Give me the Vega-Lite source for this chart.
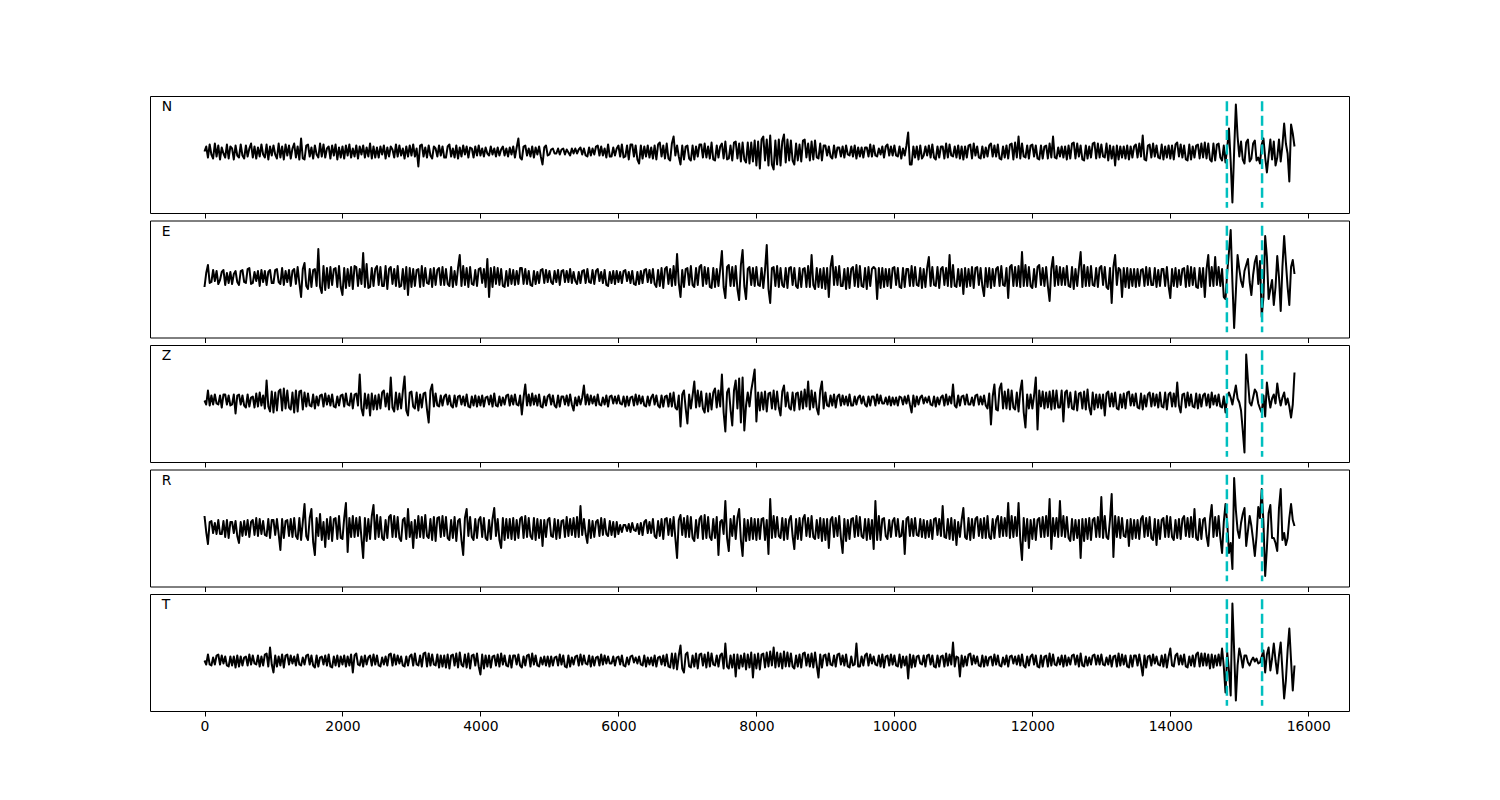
{
"$schema": "https://vega.github.io/schema/vega-lite/v6.json",
"padding": {"left": 149, "top": 95, "right": 0, "bottom": 0},
"autosize": {"type": "pad"},
"background": "white",
"spacing": 7.5,
"bounds": "flush",
"config": {
 "view": {"stroke": "black", "strokeWidth": 1},
 "font": "DejaVu Sans",
 "axis": {"domain": false, "grid": false, "ticks": true, "tickSize": 5, "tickColor": "black", "tickWidth": 1, "labelFont": "DejaVu Sans", "labelFontSize": 13.9, "labelColor": "black", "labelPadding": 3, "labelFlush": false, "labelOverlap": false}
},
"datasets": {
 "p": [{"t": 14820}, {"t": 15330}],
 "w": [
{"t":0,"N":0,"E":-10,"Z":0,"R":12,"T":0},
{"t":25,"N":5,"E":4,"Z":-4,"R":-4,"T":-4},
{"t":50,"N":-6,"E":12,"Z":10,"R":-16,"T":6},
{"t":75,"N":7,"E":-6,"Z":-5,"R":6,"T":-4},
{"t":100,"N":-3,"E":-5,"Z":5,"R":7,"T":-5},
{"t":125,"N":-7,"E":7,"Z":-4,"R":-5,"T":3},
{"t":150,"N":8,"E":-4,"Z":6,"R":5,"T":-4},
{"t":175,"N":-5,"E":6,"Z":-3,"R":-6,"T":5},
{"t":200,"N":6,"E":-7,"Z":-4,"R":8,"T":6},
{"t":225,"N":-8,"E":-3,"Z":5,"R":-6,"T":-4},
{"t":250,"N":4,"E":5,"Z":-7,"R":-6,"T":5},
{"t":275,"N":-2,"E":7,"Z":6,"R":7,"T":-3},
{"t":300,"N":-6,"E":-8,"Z":6,"R":-9,"T":4},
{"t":325,"N":7,"E":4,"Z":-4,"R":8,"T":-5},
{"t":350,"N":-7,"E":-6,"Z":5,"R":-10,"T":-6},
{"t":375,"N":5,"E":5,"Z":-5,"R":6,"T":4},
{"t":400,"N":3,"E":-7,"Z":-4,"R":6,"T":-5},
{"t":425,"N":-8,"E":3,"Z":6,"R":-5,"T":4},
{"t":450,"N":6,"E":6,"Z":-13,"R":7,"T":-7},
{"t":475,"N":-4,"E":-5,"Z":5,"R":-8,"T":5},
{"t":500,"N":-6,"E":-8,"Z":6,"R":-15,"T":-6},
{"t":525,"N":7,"E":6,"Z":-4,"R":6,"T":4},
{"t":550,"N":-4,"E":7,"Z":5,"R":-8,"T":-5},
{"t":575,"N":-7,"E":-5,"Z":-5,"R":7,"T":3},
{"t":600,"N":6,"E":-6,"Z":-7,"R":-7,"T":4},
{"t":625,"N":-5,"E":8,"Z":6,"R":8,"T":-5},
{"t":650,"N":3,"E":9,"Z":-6,"R":-9,"T":6},
{"t":675,"N":8,"E":-7,"Z":3,"R":6,"T":-4},
{"t":700,"N":-6,"E":-6,"Z":4,"R":8,"T":5},
{"t":725,"N":5,"E":5,"Z":-7,"R":-7,"T":-3},
{"t":750,"N":-7,"E":-4,"Z":7,"R":10,"T":-4},
{"t":775,"N":4,"E":6,"Z":-6,"R":-8,"T":5},
{"t":800,"N":-5,"E":-9,"Z":8,"R":9,"T":-6},
{"t":825,"N":7,"E":7,"Z":-5,"R":-6,"T":4},
{"t":850,"N":-3,"E":-5,"Z":5,"R":7,"T":-5},
{"t":875,"N":-6,"E":6,"Z":-8,"R":-7,"T":6},
{"t":900,"N":7,"E":-8,"Z":20,"R":-8,"T":7},
{"t":925,"N":-8,"E":5,"Z":-6,"R":9,"T":-6},
{"t":950,"N":5,"E":7,"Z":-11,"R":-10,"T":13},
{"t":975,"N":-4,"E":-6,"Z":9,"R":8,"T":-4},
{"t":1000,"N":6,"E":-6,"Z":-12,"R":8,"T":-12},
{"t":1025,"N":-3,"E":7,"Z":8,"R":-7,"T":5},
{"t":1050,"N":-7,"E":8,"Z":-10,"R":9,"T":-6},
{"t":1075,"N":8,"E":-5,"Z":9,"R":-6,"T":4},
{"t":1100,"N":-6,"E":-7,"Z":11,"R":-22,"T":-5},
{"t":1125,"N":5,"E":9,"Z":-10,"R":9,"T":6},
{"t":1150,"N":-8,"E":-8,"Z":12,"R":-10,"T":-7},
{"t":1175,"N":7,"E":6,"Z":-8,"R":7,"T":5},
{"t":1200,"N":-4,"E":-5,"Z":10,"R":8,"T":6},
{"t":1225,"N":6,"E":7,"Z":-7,"R":-8,"T":-4},
{"t":1250,"N":-7,"E":-9,"Z":-9,"R":9,"T":5},
{"t":1275,"N":3,"E":6,"Z":8,"R":-9,"T":-3},
{"t":1300,"N":8,"E":8,"Z":-12,"R":10,"T":4},
{"t":1325,"N":-6,"E":-7,"Z":10,"R":-8,"T":-5},
{"t":1350,"N":5,"E":10,"Z":-11,"R":-11,"T":6},
{"t":1375,"N":-8,"E":-6,"Z":9,"R":10,"T":-4},
{"t":1400,"N":13,"E":-20,"Z":10,"R":-12,"T":-5},
{"t":1425,"N":-7,"E":8,"Z":-9,"R":6,"T":3},
{"t":1450,"N":-8,"E":14,"Z":8,"R":24,"T":-4},
{"t":1475,"N":6,"E":-9,"Z":-6,"R":-8,"T":5},
{"t":1500,"N":7,"E":-12,"Z":7,"R":-12,"T":6},
{"t":1525,"N":-5,"E":8,"Z":-5,"R":10,"T":-4},
{"t":1550,"N":4,"E":-10,"Z":-6,"R":19,"T":5},
{"t":1575,"N":-7,"E":7,"Z":6,"R":-14,"T":-5},
{"t":1600,"N":6,"E":8,"Z":-8,"R":-27,"T":-7},
{"t":1625,"N":-3,"E":-9,"Z":4,"R":10,"T":5},
{"t":1650,"N":-6,"E":28,"Z":-5,"R":-8,"T":-6},
{"t":1675,"N":8,"E":-10,"Z":5,"R":14,"T":3},
{"t":1700,"N":-5,"E":-16,"Z":6,"R":-12,"T":4},
{"t":1725,"N":7,"E":11,"Z":-6,"R":6,"T":-4},
{"t":1750,"N":-6,"E":-13,"Z":7,"R":-19,"T":5},
{"t":1775,"N":3,"E":9,"Z":-4,"R":9,"T":-5},
{"t":1800,"N":5,"E":-11,"Z":5,"R":-11,"T":6},
{"t":1825,"N":-7,"E":10,"Z":-5,"R":11,"T":-6},
{"t":1850,"N":6,"E":-8,"Z":6,"R":-13,"T":-7},
{"t":1875,"N":-4,"E":8,"Z":-6,"R":9,"T":4},
{"t":1900,"N":7,"E":9,"Z":-7,"R":10,"T":-5},
{"t":1925,"N":-8,"E":-10,"Z":4,"R":-11,"T":5},
{"t":1950,"N":4,"E":11,"Z":-5,"R":12,"T":-6},
{"t":1975,"N":-6,"E":-10,"Z":5,"R":-10,"T":4},
{"t":2000,"N":5,"E":-18,"Z":6,"R":-11,"T":-4},
{"t":2025,"N":-7,"E":9,"Z":-6,"R":10,"T":5},
{"t":2050,"N":6,"E":-11,"Z":7,"R":25,"T":-6},
{"t":2075,"N":-4,"E":8,"Z":-4,"R":-24,"T":4},
{"t":2100,"N":7,"E":-9,"Z":-5,"R":10,"T":-5},
{"t":2125,"N":-6,"E":10,"Z":7,"R":-9,"T":6},
{"t":2150,"N":3,"E":-12,"Z":-8,"R":12,"T":-12},
{"t":2175,"N":-5,"E":11,"Z":6,"R":-9,"T":5},
{"t":2200,"N":6,"E":10,"Z":7,"R":10,"T":7},
{"t":2225,"N":-7,"E":-9,"Z":-5,"R":-8,"T":-4},
{"t":2250,"N":5,"E":8,"Z":26,"R":11,"T":-5},
{"t":2275,"N":-3,"E":-7,"Z":-8,"R":-10,"T":4},
{"t":2300,"N":6,"E":24,"Z":-15,"R":-30,"T":-6},
{"t":2325,"N":-6,"E":-10,"Z":7,"R":10,"T":5},
{"t":2350,"N":4,"E":13,"Z":-8,"R":-13,"T":-4},
{"t":2375,"N":-5,"E":-11,"Z":6,"R":9,"T":3},
{"t":2400,"N":8,"E":-10,"Z":-15,"R":-11,"T":5},
{"t":2425,"N":-7,"E":9,"Z":7,"R":12,"T":-5},
{"t":2450,"N":5,"E":-9,"Z":-9,"R":23,"T":6},
{"t":2475,"N":-6,"E":8,"Z":5,"R":-11,"T":-4},
{"t":2500,"N":4,"E":11,"Z":-9,"R":13,"T":5},
{"t":2525,"N":-6,"E":-8,"Z":6,"R":-9,"T":-5},
{"t":2550,"N":5,"E":10,"Z":-8,"R":11,"T":-6},
{"t":2575,"N":-3,"E":-9,"Z":8,"R":-10,"T":3},
{"t":2600,"N":6,"E":-9,"Z":10,"R":-12,"T":-4},
{"t":2625,"N":-7,"E":11,"Z":-6,"R":8,"T":4},
{"t":2650,"N":4,"E":-12,"Z":7,"R":-10,"T":-5},
{"t":2675,"N":-5,"E":8,"Z":-9,"R":11,"T":6},
{"t":2700,"N":5,"E":10,"Z":23,"R":13,"T":7},
{"t":2725,"N":2,"E":-7,"Z":-7,"R":-9,"T":-5},
{"t":2750,"N":-6,"E":8,"Z":-11,"R":12,"T":6},
{"t":2775,"N":7,"E":-9,"Z":8,"R":-9,"T":-4},
{"t":2800,"N":-5,"E":11,"Z":-9,"R":11,"T":5},
{"t":2825,"N":6,"E":-10,"Z":7,"R":-10,"T":-3},
{"t":2850,"N":-4,"E":-9,"Z":-8,"R":-13,"T":4},
{"t":2875,"N":3,"E":8,"Z":9,"R":8,"T":-5},
{"t":2900,"N":-7,"E":-12,"Z":24,"R":10,"T":-6},
{"t":2925,"N":5,"E":10,"Z":-10,"R":-11,"T":4},
{"t":2950,"N":-5,"E":-18,"Z":-15,"R":19,"T":-5},
{"t":2975,"N":6,"E":9,"Z":8,"R":-9,"T":4},
{"t":3000,"N":-4,"E":-10,"Z":9,"R":6,"T":6},
{"t":3025,"N":7,"E":8,"Z":-6,"R":-20,"T":-5},
{"t":3050,"N":-5,"E":-9,"Z":-8,"R":8,"T":7},
{"t":3075,"N":3,"E":7,"Z":8,"R":-10,"T":-4},
{"t":3100,"N":-15,"E":8,"Z":-10,"R":12,"T":-5},
{"t":3125,"N":6,"E":-10,"Z":6,"R":-9,"T":5},
{"t":3150,"N":7,"E":11,"Z":-7,"R":11,"T":-6},
{"t":3175,"N":-5,"E":-9,"Z":7,"R":-10,"T":7},
{"t":3200,"N":4,"E":9,"Z":8,"R":13,"T":8},
{"t":3225,"N":-6,"E":-6,"Z":-9,"R":-8,"T":-6},
{"t":3250,"N":6,"E":-7,"Z":-22,"R":-10,"T":7},
{"t":3275,"N":-4,"E":8,"Z":10,"R":9,"T":-5},
{"t":3300,"N":-7,"E":-10,"Z":16,"R":-12,"T":6},
{"t":3325,"N":5,"E":9,"Z":-6,"R":11,"T":-4},
{"t":3350,"N":3,"E":-8,"Z":7,"R":-13,"T":-5},
{"t":3375,"N":-5,"E":7,"Z":-5,"R":10,"T":6},
{"t":3400,"N":6,"E":9,"Z":-6,"R":11,"T":-7},
{"t":3425,"N":-4,"E":-8,"Z":5,"R":-9,"T":5},
{"t":3450,"N":5,"E":10,"Z":-5,"R":12,"T":-6},
{"t":3475,"N":-6,"E":-8,"Z":4,"R":-8,"T":5},
{"t":3500,"N":-6,"E":8,"Z":6,"R":11,"T":-7},
{"t":3525,"N":5,"E":-7,"Z":-4,"R":-10,"T":6},
{"t":3550,"N":7,"E":-9,"Z":5,"R":-12,"T":-8},
{"t":3575,"N":-5,"E":10,"Z":-5,"R":8,"T":5},
{"t":3600,"N":3,"E":-10,"Z":-7,"R":-10,"T":6},
{"t":3625,"N":-6,"E":6,"Z":5,"R":11,"T":-5},
{"t":3650,"N":6,"E":-8,"Z":-6,"R":-13,"T":7},
{"t":3675,"N":-7,"E":9,"Z":4,"R":7,"T":-7},
{"t":3700,"N":4,"E":22,"Z":5,"R":9,"T":8},
{"t":3725,"N":-5,"E":-9,"Z":-4,"R":-12,"T":-4},
{"t":3750,"N":6,"E":11,"Z":4,"R":-27,"T":-6},
{"t":3775,"N":-3,"E":-8,"Z":-5,"R":10,"T":6},
{"t":3800,"N":5,"E":9,"Z":6,"R":19,"T":-7},
{"t":3825,"N":-6,"E":-10,"Z":-6,"R":-8,"T":7},
{"t":3850,"N":4,"E":10,"Z":-7,"R":11,"T":-8},
{"t":3875,"N":3,"E":-7,"Z":4,"R":-9,"T":5},
{"t":3900,"N":-6,"E":-8,"Z":-5,"R":-12,"T":6},
{"t":3925,"N":5,"E":7,"Z":5,"R":9,"T":-5},
{"t":3950,"N":-4,"E":-9,"Z":-6,"R":-10,"T":7},
{"t":3975,"N":6,"E":8,"Z":4,"R":8,"T":-6},
{"t":4000,"N":-4,"E":9,"Z":-5,"R":11,"T":-14},
{"t":4025,"N":3,"E":-6,"Z":5,"R":-9,"T":6},
{"t":4050,"N":-5,"E":8,"Z":-6,"R":10,"T":-8},
{"t":4075,"N":4,"E":-10,"Z":3,"R":-10,"T":5},
{"t":4100,"N":-2,"E":18,"Z":4,"R":-12,"T":-6},
{"t":4125,"N":-4,"E":-20,"Z":-4,"R":8,"T":5},
{"t":4150,"N":5,"E":9,"Z":5,"R":-11,"T":-7},
{"t":4175,"N":-3,"E":-10,"Z":-6,"R":9,"T":4},
{"t":4200,"N":3,"E":10,"Z":7,"R":20,"T":5},
{"t":4225,"N":-5,"E":-7,"Z":-5,"R":-8,"T":-5},
{"t":4250,"N":4,"E":9,"Z":-6,"R":9,"T":6},
{"t":4275,"N":-4,"E":-8,"Z":4,"R":-12,"T":-6},
{"t":4300,"N":2,"E":8,"Z":-5,"R":-20,"T":7},
{"t":4325,"N":5,"E":-9,"Z":3,"R":10,"T":-4},
{"t":4350,"N":-4,"E":-10,"Z":-4,"R":-12,"T":5},
{"t":4375,"N":3,"E":6,"Z":5,"R":9,"T":-5},
{"t":4400,"N":-5,"E":-9,"Z":6,"R":-10,"T":-6},
{"t":4425,"N":4,"E":8,"Z":-5,"R":9,"T":5},
{"t":4450,"N":-3,"E":-7,"Z":5,"R":-11,"T":-7},
{"t":4475,"N":5,"E":7,"Z":-4,"R":10,"T":5},
{"t":4500,"N":-6,"E":-8,"Z":6,"R":-12,"T":5},
{"t":4525,"N":4,"E":6,"Z":-4,"R":8,"T":-4},
{"t":4550,"N":13,"E":-7,"Z":-5,"R":-10,"T":6},
{"t":4575,"N":-6,"E":9,"Z":5,"R":9,"T":-5},
{"t":4600,"N":-8,"E":9,"Z":-14,"R":11,"T":-7},
{"t":4625,"N":5,"E":-7,"Z":3,"R":-10,"T":4},
{"t":4650,"N":6,"E":8,"Z":16,"R":12,"T":-5},
{"t":4675,"N":-4,"E":-7,"Z":-5,"R":-9,"T":5},
{"t":4700,"N":3,"E":6,"Z":6,"R":10,"T":6},
{"t":4725,"N":-5,"E":-8,"Z":-5,"R":-8,"T":-6},
{"t":4750,"N":5,"E":-9,"Z":7,"R":-11,"T":7},
{"t":4775,"N":-6,"E":6,"Z":-4,"R":10,"T":-4},
{"t":4800,"N":4,"E":-7,"Z":5,"R":-12,"T":5},
{"t":4825,"N":-3,"E":5,"Z":-5,"R":9,"T":-5},
{"t":4850,"N":5,"E":-6,"Z":6,"R":-10,"T":-6},
{"t":4875,"N":-5,"E":7,"Z":-6,"R":8,"T":3},
{"t":4900,"N":-13,"E":8,"Z":-7,"R":-18,"T":-4},
{"t":4925,"N":4,"E":-6,"Z":4,"R":8,"T":4},
{"t":4950,"N":6,"E":7,"Z":-5,"R":-9,"T":-5},
{"t":4975,"N":-4,"E":-5,"Z":4,"R":8,"T":4},
{"t":5000,"N":-3,"E":6,"Z":6,"R":10,"T":-6},
{"t":5025,"N":2,"E":-5,"Z":-4,"R":-8,"T":4},
{"t":5050,"N":3,"E":-7,"Z":5,"R":-9,"T":-5},
{"t":5075,"N":-2,"E":6,"Z":-5,"R":9,"T":3},
{"t":5100,"N":-2,"E":-5,"Z":-7,"R":-11,"T":4},
{"t":5125,"N":3,"E":7,"Z":5,"R":8,"T":-5},
{"t":5150,"N":-3,"E":-8,"Z":-6,"R":-10,"T":6},
{"t":5175,"N":2,"E":6,"Z":4,"R":7,"T":-4},
{"t":5200,"N":3,"E":7,"Z":4,"R":8,"T":5},
{"t":5225,"N":-3,"E":-5,"Z":-4,"R":-9,"T":-6},
{"t":5250,"N":2,"E":6,"Z":5,"R":11,"T":-7},
{"t":5275,"N":-1,"E":-5,"Z":-5,"R":-8,"T":5},
{"t":5300,"N":-4,"E":8,"Z":6,"R":9,"T":-6},
{"t":5325,"N":3,"E":-6,"Z":-4,"R":-7,"T":3},
{"t":5350,"N":-2,"E":5,"Z":-10,"R":10,"T":-4},
{"t":5375,"N":3,"E":-4,"Z":3,"R":-9,"T":4},
{"t":5400,"N":-2,"E":-7,"Z":-5,"R":11,"T":5},
{"t":5425,"N":2,"E":5,"Z":4,"R":-9,"T":-5},
{"t":5450,"N":4,"E":-6,"Z":-4,"R":22,"T":6},
{"t":5475,"N":-3,"E":6,"Z":3,"R":-7,"T":-4},
{"t":5500,"N":3,"E":7,"Z":15,"R":9,"T":5},
{"t":5525,"N":-4,"E":-6,"Z":-4,"R":-6,"T":-3},
{"t":5550,"N":-5,"E":8,"Z":6,"R":-15,"T":-4},
{"t":5575,"N":4,"E":-5,"Z":-4,"R":8,"T":5},
{"t":5600,"N":-4,"E":-6,"Z":5,"R":-10,"T":-6},
{"t":5625,"N":3,"E":7,"Z":-3,"R":7,"T":4},
{"t":5650,"N":-3,"E":-7,"Z":4,"R":-9,"T":-5},
{"t":5675,"N":5,"E":6,"Z":-5,"R":6,"T":3},
{"t":5700,"N":6,"E":8,"Z":6,"R":8,"T":4},
{"t":5725,"N":-4,"E":-4,"Z":-4,"R":-8,"T":-5},
{"t":5750,"N":5,"E":5,"Z":-5,"R":10,"T":6},
{"t":5775,"N":-4,"E":-6,"Z":3,"R":-7,"T":-4},
{"t":5800,"N":3,"E":7,"Z":-4,"R":9,"T":5},
{"t":5825,"N":-6,"E":-8,"Z":5,"R":-6,"T":-3},
{"t":5850,"N":7,"E":-9,"Z":-6,"R":-8,"T":4},
{"t":5875,"N":-5,"E":5,"Z":4,"R":7,"T":-3},
{"t":5900,"N":-5,"E":-6,"Z":5,"R":-7,"T":-3},
{"t":5925,"N":4,"E":6,"Z":-3,"R":6,"T":4},
{"t":5950,"N":-4,"E":-7,"Z":4,"R":-9,"T":-5},
{"t":5975,"N":3,"E":6,"Z":-3,"R":6,"T":3},
{"t":6000,"N":6,"E":-5,"Z":5,"R":-6,"T":4},
{"t":6025,"N":-5,"E":5,"Z":-3,"R":3,"T":-4},
{"t":6050,"N":7,"E":-6,"Z":-4,"R":-4,"T":5},
{"t":6075,"N":-6,"E":6,"Z":4,"R":3,"T":-5},
{"t":6100,"N":-5,"E":7,"Z":-6,"R":3,"T":-6},
{"t":6125,"N":6,"E":-4,"Z":4,"R":-3,"T":3},
{"t":6150,"N":-8,"E":5,"Z":-5,"R":4,"T":-4},
{"t":6175,"N":7,"E":-6,"Z":3,"R":-4,"T":4},
{"t":6200,"N":7,"E":6,"Z":4,"R":5,"T":5},
{"t":6225,"N":-5,"E":-7,"Z":-5,"R":-2,"T":-2},
{"t":6250,"N":6,"E":-8,"Z":6,"R":-3,"T":3},
{"t":6275,"N":-8,"E":5,"Z":-4,"R":4,"T":-3},
{"t":6300,"N":-12,"E":-7,"Z":5,"R":-6,"T":4},
{"t":6325,"N":6,"E":6,"Z":-3,"R":5,"T":-4},
{"t":6350,"N":-7,"E":-6,"Z":4,"R":-7,"T":-5},
{"t":6375,"N":5,"E":7,"Z":-5,"R":6,"T":5},
{"t":6400,"N":-5,"E":8,"Z":-6,"R":8,"T":-6},
{"t":6425,"N":6,"E":-5,"Z":4,"R":-5,"T":3},
{"t":6450,"N":-6,"E":7,"Z":-5,"R":6,"T":-4},
{"t":6475,"N":4,"E":-6,"Z":3,"R":-5,"T":3},
{"t":6500,"N":-7,"E":8,"Z":6,"R":9,"T":-5},
{"t":6525,"N":6,"E":-7,"Z":-4,"R":-8,"T":5},
{"t":6550,"N":-8,"E":-10,"Z":5,"R":-10,"T":-6},
{"t":6575,"N":7,"E":7,"Z":-5,"R":7,"T":3},
{"t":6600,"N":9,"E":-9,"Z":-7,"R":-8,"T":4},
{"t":6625,"N":-5,"E":9,"Z":5,"R":9,"T":-4},
{"t":6650,"N":6,"E":-11,"Z":-6,"R":-11,"T":5},
{"t":6675,"N":-7,"E":8,"Z":4,"R":9,"T":-5},
{"t":6700,"N":8,"E":10,"Z":5,"R":10,"T":6},
{"t":6725,"N":-7,"E":-7,"Z":-6,"R":-7,"T":-6},
{"t":6750,"N":-9,"E":8,"Z":7,"R":9,"T":-7},
{"t":6775,"N":8,"E":-9,"Z":-6,"R":-8,"T":7},
{"t":6800,"N":15,"E":11,"Z":8,"R":11,"T":-8},
{"t":6825,"N":-4,"E":-8,"Z":-7,"R":-10,"T":7},
{"t":6850,"N":6,"E":23,"Z":-9,"R":-30,"T":-9},
{"t":6875,"N":-5,"E":-6,"Z":5,"R":8,"T":5},
{"t":6900,"N":-13,"E":-20,"Z":-26,"R":13,"T":15},
{"t":6925,"N":6,"E":7,"Z":6,"R":-7,"T":-8},
{"t":6950,"N":-8,"E":-10,"Z":10,"R":10,"T":-12},
{"t":6975,"N":5,"E":8,"Z":-8,"R":-9,"T":6},
{"t":7000,"N":6,"E":9,"Z":-23,"R":12,"T":8},
{"t":7025,"N":-7,"E":-8,"Z":6,"R":-9,"T":-6},
{"t":7050,"N":-9,"E":11,"Z":-8,"R":11,"T":-7},
{"t":7075,"N":6,"E":-8,"Z":5,"R":-10,"T":5},
{"t":7100,"N":-8,"E":-10,"Z":19,"R":-13,"T":-6},
{"t":7125,"N":5,"E":9,"Z":-7,"R":8,"T":7},
{"t":7150,"N":-5,"E":-8,"Z":10,"R":-10,"T":-8},
{"t":7175,"N":7,"E":10,"Z":-6,"R":9,"T":6},
{"t":7200,"N":7,"E":12,"Z":9,"R":12,"T":7},
{"t":7225,"N":-6,"E":-9,"Z":-8,"R":-11,"T":-5},
{"t":7250,"N":8,"E":10,"Z":-12,"R":13,"T":6},
{"t":7275,"N":-6,"E":-7,"Z":7,"R":-10,"T":-7},
{"t":7300,"N":5,"E":9,"Z":-11,"R":11,"T":8},
{"t":7325,"N":-7,"E":-10,"Z":7,"R":-9,"T":-6},
{"t":7350,"N":9,"E":-11,"Z":-9,"R":-12,"T":7},
{"t":7375,"N":-8,"E":9,"Z":8,"R":9,"T":-4},
{"t":7400,"N":-9,"E":-10,"Z":12,"R":-10,"T":-5},
{"t":7425,"N":6,"E":8,"Z":-7,"R":11,"T":5},
{"t":7450,"N":-6,"E":-9,"Z":10,"R":-27,"T":-6},
{"t":7475,"N":5,"E":8,"Z":-6,"R":6,"T":5},
{"t":7500,"N":8,"E":26,"Z":26,"R":8,"T":7},
{"t":7525,"N":-7,"E":-10,"Z":-12,"R":-6,"T":-8},
{"t":7550,"N":10,"E":-21,"Z":-31,"R":27,"T":17},
{"t":7575,"N":-8,"E":10,"Z":8,"R":-10,"T":-6},
{"t":7600,"N":-7,"E":12,"Z":12,"R":-23,"T":-8},
{"t":7625,"N":6,"E":-9,"Z":-9,"R":9,"T":5},
{"t":7650,"N":-9,"E":10,"Z":-25,"R":-8,"T":-7},
{"t":7675,"N":9,"E":-9,"Z":10,"R":12,"T":6},
{"t":7700,"N":10,"E":11,"Z":20,"R":-11,"T":-16},
{"t":7725,"N":-7,"E":-12,"Z":-8,"R":10,"T":6},
{"t":7750,"N":8,"E":-23,"Z":22,"R":19,"T":-8},
{"t":7775,"N":-10,"E":12,"Z":-22,"R":-12,"T":5},
{"t":7800,"N":9,"E":27,"Z":23,"R":-28,"T":-6},
{"t":7825,"N":-8,"E":-9,"Z":-30,"R":9,"T":7},
{"t":7850,"N":-11,"E":-22,"Z":-5,"R":-13,"T":-9},
{"t":7875,"N":9,"E":8,"Z":8,"R":8,"T":6},
{"t":7900,"N":-12,"E":10,"Z":-6,"R":-12,"T":-7},
{"t":7925,"N":9,"E":-8,"Z":10,"R":10,"T":8},
{"t":7950,"N":-10,"E":9,"Z":20,"R":-11,"T":-17},
{"t":7975,"N":11,"E":-9,"Z":31,"R":9,"T":6},
{"t":8000,"N":-14,"E":10,"Z":-21,"R":-12,"T":-8},
{"t":8025,"N":10,"E":-8,"Z":8,"R":9,"T":7},
{"t":8050,"N":-17,"E":-9,"Z":-10,"R":-11,"T":-9},
{"t":8075,"N":12,"E":9,"Z":8,"R":9,"T":6},
{"t":8100,"N":15,"E":-11,"Z":-9,"R":10,"T":7},
{"t":8125,"N":-9,"E":7,"Z":9,"R":-12,"T":-7},
{"t":8150,"N":12,"E":32,"Z":-11,"R":8,"T":8},
{"t":8175,"N":-14,"E":-12,"Z":7,"R":-26,"T":-6},
{"t":8200,"N":16,"E":-26,"Z":8,"R":29,"T":9},
{"t":8225,"N":-13,"E":9,"Z":-8,"R":-10,"T":-5},
{"t":8250,"N":-18,"E":10,"Z":10,"R":12,"T":13},
{"t":8275,"N":11,"E":-9,"Z":-9,"R":-9,"T":-7},
{"t":8300,"N":-13,"E":11,"Z":9,"R":11,"T":8},
{"t":8325,"N":12,"E":-10,"Z":-7,"R":-8,"T":-6},
{"t":8350,"N":-14,"E":9,"Z":-15,"R":-10,"T":7},
{"t":8375,"N":10,"E":-8,"Z":9,"R":10,"T":-8},
{"t":8400,"N":17,"E":-10,"Z":15,"R":-12,"T":9},
{"t":8425,"N":-11,"E":9,"Z":-6,"R":9,"T":-6},
{"t":8450,"N":12,"E":-11,"Z":8,"R":-11,"T":8},
{"t":8475,"N":-9,"E":9,"Z":-7,"R":8,"T":-6},
{"t":8500,"N":11,"E":10,"Z":-9,"R":12,"T":7},
{"t":8525,"N":-9,"E":-8,"Z":8,"R":-8,"T":-6},
{"t":8550,"N":-13,"E":9,"Z":-10,"R":-21,"T":-8},
{"t":8575,"N":8,"E":-9,"Z":7,"R":9,"T":5},
{"t":8600,"N":-9,"E":-11,"Z":8,"R":-11,"T":-6},
{"t":8625,"N":7,"E":9,"Z":-9,"R":10,"T":6},
{"t":8650,"N":-10,"E":-10,"Z":9,"R":-12,"T":-7},
{"t":8675,"N":11,"E":8,"Z":-8,"R":9,"T":7},
{"t":8700,"N":12,"E":9,"Z":11,"R":13,"T":8},
{"t":8725,"N":-6,"E":-10,"Z":-6,"R":-8,"T":-5},
{"t":8750,"N":8,"E":11,"Z":19,"R":10,"T":6},
{"t":8775,"N":-9,"E":-10,"Z":-9,"R":-9,"T":-6},
{"t":8800,"N":10,"E":22,"Z":10,"R":12,"T":7},
{"t":8825,"N":-8,"E":-8,"Z":-7,"R":-9,"T":-7},
{"t":8850,"N":11,"E":-12,"Z":8,"R":-11,"T":8},
{"t":8875,"N":-6,"E":9,"Z":-8,"R":8,"T":-5},
{"t":8900,"N":-7,"E":-10,"Z":-14,"R":-10,"T":-17},
{"t":8925,"N":8,"E":8,"Z":10,"R":10,"T":6},
{"t":8950,"N":-9,"E":-11,"Z":19,"R":-13,"T":-7},
{"t":8975,"N":6,"E":9,"Z":-8,"R":9,"T":5},
{"t":9000,"N":6,"E":-12,"Z":8,"R":-12,"T":6},
{"t":9025,"N":-4,"E":9,"Z":-5,"R":9,"T":-5},
{"t":9050,"N":5,"E":-20,"Z":-6,"R":-20,"T":7},
{"t":9075,"N":-5,"E":10,"Z":5,"R":8,"T":-4},
{"t":9100,"N":-7,"E":21,"Z":-5,"R":11,"T":-5},
{"t":9125,"N":6,"E":-8,"Z":6,"R":-9,"T":5},
{"t":9150,"N":-6,"E":10,"Z":-7,"R":10,"T":-6},
{"t":9175,"N":4,"E":-8,"Z":4,"R":-8,"T":6},
{"t":9200,"N":4,"E":11,"Z":6,"R":12,"T":7},
{"t":9225,"N":-5,"E":-9,"Z":-5,"R":-10,"T":-4},
{"t":9250,"N":5,"E":-9,"Z":5,"R":-25,"T":5},
{"t":9275,"N":-6,"E":8,"Z":-4,"R":9,"T":-5},
{"t":9300,"N":6,"E":-12,"Z":4,"R":-13,"T":6},
{"t":9325,"N":-3,"E":9,"Z":-5,"R":8,"T":-6},
{"t":9350,"N":-4,"E":-11,"Z":6,"R":-11,"T":-7},
{"t":9375,"N":5,"E":8,"Z":-5,"R":9,"T":4},
{"t":9400,"N":-5,"E":10,"Z":-5,"R":10,"T":-5},
{"t":9425,"N":6,"E":-9,"Z":4,"R":-9,"T":-4},
{"t":9450,"N":-7,"E":12,"Z":-4,"R":12,"T":17},
{"t":9475,"N":4,"E":-10,"Z":3,"R":-8,"T":-6},
{"t":9500,"N":-5,"E":11,"Z":5,"R":11,"T":-6},
{"t":9525,"N":4,"E":-9,"Z":-3,"R":-8,"T":4},
{"t":9550,"N":-6,"E":-10,"Z":4,"R":-10,"T":-5},
{"t":9575,"N":4,"E":9,"Z":-4,"R":9,"T":5},
{"t":9600,"N":4,"E":-12,"Z":-6,"R":-12,"T":7},
{"t":9625,"N":-5,"E":10,"Z":4,"R":9,"T":-5},
{"t":9650,"N":7,"E":-9,"Z":-5,"R":-11,"T":6},
{"t":9675,"N":-5,"E":8,"Z":4,"R":8,"T":-3},
{"t":9700,"N":6,"E":10,"Z":4,"R":-21,"T":4},
{"t":9725,"N":-4,"E":8,"Z":-5,"R":27,"T":-4},
{"t":9750,"N":-5,"E":-22,"Z":6,"R":-12,"T":-5},
{"t":9775,"N":3,"E":9,"Z":-3,"R":12,"T":5},
{"t":9800,"N":-3,"E":-11,"Z":5,"R":-12,"T":-6},
{"t":9825,"N":5,"E":9,"Z":-3,"R":9,"T":6},
{"t":9850,"N":-6,"E":-10,"Z":-3,"R":10,"T":-7},
{"t":9875,"N":5,"E":8,"Z":3,"R":-8,"T":4},
{"t":9900,"N":7,"E":-9,"Z":-4,"R":-11,"T":5},
{"t":9925,"N":-4,"E":8,"Z":4,"R":8,"T":-5},
{"t":9950,"N":5,"E":-11,"Z":-5,"R":-9,"T":6},
{"t":9975,"N":-4,"E":9,"Z":3,"R":7,"T":-4},
{"t":10000,"N":6,"E":10,"Z":-4,"R":10,"T":5},
{"t":10025,"N":-4,"E":-8,"Z":3,"R":-8,"T":-5},
{"t":10050,"N":-5,"E":9,"Z":-5,"R":9,"T":-6},
{"t":10075,"N":5,"E":-10,"Z":4,"R":-9,"T":6},
{"t":10100,"N":-7,"E":-11,"Z":3,"R":-8,"T":-7},
{"t":10125,"N":3,"E":9,"Z":-4,"R":7,"T":4},
{"t":10150,"N":-4,"E":-10,"Z":4,"R":-26,"T":-5},
{"t":10175,"N":6,"E":8,"Z":-3,"R":9,"T":4},
{"t":10200,"N":19,"E":8,"Z":5,"R":11,"T":-18},
{"t":10225,"N":-13,"E":-9,"Z":-4,"R":-8,"T":6},
{"t":10250,"N":-13,"E":11,"Z":-12,"R":9,"T":-7},
{"t":10275,"N":5,"E":-9,"Z":5,"R":-8,"T":5},
{"t":10300,"N":-6,"E":10,"Z":-6,"R":10,"T":-6},
{"t":10325,"N":5,"E":-8,"Z":4,"R":-7,"T":4},
{"t":10350,"N":-8,"E":-9,"Z":-4,"R":-8,"T":5},
{"t":10375,"N":6,"E":9,"Z":3,"R":9,"T":-3},
{"t":10400,"N":-7,"E":-11,"Z":5,"R":-9,"T":-4},
{"t":10425,"N":-4,"E":8,"Z":-3,"R":8,"T":5},
{"t":10450,"N":5,"E":-10,"Z":3,"R":-10,"T":-6},
{"t":10475,"N":-4,"E":9,"Z":-2,"R":7,"T":5},
{"t":10500,"N":6,"E":20,"Z":4,"R":-9,"T":6},
{"t":10525,"N":-6,"E":-9,"Z":-4,"R":8,"T":-4},
{"t":10550,"N":7,"E":10,"Z":-5,"R":-11,"T":5},
{"t":10575,"N":-6,"E":-8,"Z":4,"R":9,"T":-6},
{"t":10600,"N":-8,"E":-9,"Z":-6,"R":10,"T":-7},
{"t":10625,"N":5,"E":10,"Z":3,"R":-7,"T":5},
{"t":10650,"N":-6,"E":-11,"Z":-4,"R":9,"T":-6},
{"t":10675,"N":5,"E":8,"Z":3,"R":-8,"T":4},
{"t":10700,"N":5,"E":10,"Z":5,"R":22,"T":5},
{"t":10725,"N":-7,"E":-8,"Z":-5,"R":-9,"T":-6},
{"t":10750,"N":8,"E":9,"Z":6,"R":-10,"T":7},
{"t":10775,"N":-6,"E":-9,"Z":-4,"R":9,"T":-5},
{"t":10800,"N":7,"E":22,"Z":4,"R":-11,"T":6},
{"t":10825,"N":-4,"E":-10,"Z":-3,"R":10,"T":-4},
{"t":10850,"N":-5,"E":12,"Z":16,"R":-12,"T":18},
{"t":10875,"N":5,"E":-9,"Z":-5,"R":8,"T":-6},
{"t":10900,"N":-6,"E":-10,"Z":-7,"R":-17,"T":4},
{"t":10925,"N":6,"E":8,"Z":5,"R":6,"T":3},
{"t":10950,"N":-7,"E":-9,"Z":-5,"R":-9,"T":-16},
{"t":10975,"N":5,"E":8,"Z":4,"R":8,"T":5},
{"t":11000,"N":-8,"E":-17,"Z":5,"R":20,"T":-6},
{"t":11025,"N":5,"E":9,"Z":-4,"R":-9,"T":4},
{"t":11050,"N":-6,"E":-10,"Z":6,"R":-11,"T":-5},
{"t":11075,"N":6,"E":8,"Z":-4,"R":10,"T":6},
{"t":11100,"N":7,"E":-9,"Z":-4,"R":-12,"T":7},
{"t":11125,"N":-7,"E":10,"Z":3,"R":9,"T":-4},
{"t":11150,"N":8,"E":-11,"Z":-5,"R":-10,"T":5},
{"t":11175,"N":-4,"E":9,"Z":5,"R":9,"T":-3},
{"t":11200,"N":5,"E":10,"Z":6,"R":11,"T":4},
{"t":11225,"N":-6,"E":-8,"Z":-4,"R":-8,"T":-5},
{"t":11250,"N":-7,"E":9,"Z":4,"R":9,"T":-6},
{"t":11275,"N":5,"E":-9,"Z":-4,"R":-10,"T":5},
{"t":11300,"N":-6,"E":-19,"Z":5,"R":10,"T":-6},
{"t":11325,"N":4,"E":9,"Z":-5,"R":-10,"T":4},
{"t":11350,"N":-5,"E":-10,"Z":-8,"R":12,"T":-5},
{"t":11375,"N":6,"E":9,"Z":7,"R":-9,"T":3},
{"t":11400,"N":8,"E":-11,"Z":-24,"R":-11,"T":4},
{"t":11425,"N":-5,"E":8,"Z":4,"R":9,"T":-5},
{"t":11450,"N":6,"E":-9,"Z":16,"R":-10,"T":6},
{"t":11475,"N":-5,"E":8,"Z":-9,"R":8,"T":-4},
{"t":11500,"N":7,"E":10,"Z":-10,"R":12,"T":5},
{"t":11525,"N":-7,"E":-9,"Z":12,"R":-9,"T":-5},
{"t":11550,"N":-8,"E":11,"Z":17,"R":11,"T":-6},
{"t":11575,"N":5,"E":-8,"Z":-8,"R":-8,"T":3},
{"t":11600,"N":-6,"E":-9,"Z":9,"R":10,"T":-4},
{"t":11625,"N":6,"E":9,"Z":-8,"R":-8,"T":5},
{"t":11650,"N":-7,"E":-21,"Z":11,"R":25,"T":-6},
{"t":11675,"N":7,"E":10,"Z":-9,"R":-10,"T":4},
{"t":11700,"N":8,"E":12,"Z":10,"R":12,"T":5},
{"t":11725,"N":-8,"E":-9,"Z":-7,"R":-9,"T":-3},
{"t":11750,"N":9,"E":10,"Z":-9,"R":11,"T":4},
{"t":11775,"N":-6,"E":-9,"Z":8,"R":-8,"T":-4},
{"t":11800,"N":15,"E":11,"Z":-11,"R":25,"T":5},
{"t":11825,"N":-7,"E":-10,"Z":10,"R":-12,"T":-5},
{"t":11850,"N":8,"E":25,"Z":20,"R":-32,"T":6},
{"t":11875,"N":-5,"E":-9,"Z":-12,"R":10,"T":-5},
{"t":11900,"N":-6,"E":12,"Z":-27,"R":-13,"T":-7},
{"t":11925,"N":6,"E":-9,"Z":6,"R":9,"T":4},
{"t":11950,"N":-7,"E":10,"Z":-8,"R":-20,"T":-5},
{"t":11975,"N":6,"E":-9,"Z":6,"R":8,"T":4},
{"t":12000,"N":7,"E":-11,"Z":-8,"R":-11,"T":6},
{"t":12025,"N":-5,"E":8,"Z":5,"R":9,"T":-4},
{"t":12050,"N":6,"E":-10,"Z":23,"R":-12,"T":5},
{"t":12075,"N":-7,"E":10,"Z":-29,"R":8,"T":-6},
{"t":12100,"N":-8,"E":12,"Z":10,"R":10,"T":-7},
{"t":12125,"N":6,"E":-8,"Z":-6,"R":-9,"T":5},
{"t":12150,"N":-7,"E":9,"Z":9,"R":11,"T":-6},
{"t":12175,"N":5,"E":-9,"Z":-8,"R":-9,"T":4},
{"t":12200,"N":6,"E":10,"Z":8,"R":12,"T":5},
{"t":12225,"N":-7,"E":-9,"Z":-7,"R":-8,"T":-6},
{"t":12250,"N":8,"E":-24,"Z":9,"R":29,"T":7},
{"t":12275,"N":-6,"E":8,"Z":-9,"R":-21,"T":-5},
{"t":12300,"N":15,"E":20,"Z":10,"R":10,"T":6},
{"t":12325,"N":-6,"E":-9,"Z":-8,"R":-8,"T":-4},
{"t":12350,"N":-7,"E":11,"Z":10,"R":10,"T":-5},
{"t":12375,"N":4,"E":-8,"Z":-7,"R":-9,"T":3},
{"t":12400,"N":-5,"E":10,"Z":-7,"R":27,"T":-4},
{"t":12425,"N":5,"E":-8,"Z":10,"R":-8,"T":5},
{"t":12450,"N":-6,"E":9,"Z":-21,"R":12,"T":-6},
{"t":12475,"N":5,"E":-8,"Z":8,"R":-9,"T":5},
{"t":12500,"N":-8,"E":11,"Z":10,"R":11,"T":-5},
{"t":12525,"N":6,"E":-9,"Z":-7,"R":-10,"T":3},
{"t":12550,"N":-7,"E":-10,"Z":8,"R":-13,"T":-4},
{"t":12575,"N":8,"E":10,"Z":-8,"R":9,"T":5},
{"t":12600,"N":9,"E":-12,"Z":-9,"R":-12,"T":6},
{"t":12625,"N":-7,"E":8,"Z":9,"R":8,"T":-4},
{"t":12650,"N":8,"E":-9,"Z":-10,"R":-10,"T":5},
{"t":12675,"N":-5,"E":9,"Z":7,"R":8,"T":-6},
{"t":12700,"N":6,"E":25,"Z":8,"R":-30,"T":7},
{"t":12725,"N":-8,"E":-10,"Z":-8,"R":9,"T":-5},
{"t":12750,"N":-9,"E":12,"Z":9,"R":-13,"T":-6},
{"t":12775,"N":6,"E":-9,"Z":-9,"R":9,"T":4},
{"t":12800,"N":-7,"E":10,"Z":11,"R":-11,"T":-5},
{"t":12825,"N":5,"E":-9,"Z":-7,"R":10,"T":3},
{"t":12850,"N":-6,"E":11,"Z":-14,"R":-12,"T":-4},
{"t":12875,"N":8,"E":-8,"Z":8,"R":8,"T":5},
{"t":12900,"N":9,"E":-9,"Z":-9,"R":10,"T":6},
{"t":12925,"N":-7,"E":9,"Z":6,"R":-9,"T":-4},
{"t":12950,"N":8,"E":-10,"Z":-7,"R":11,"T":5},
{"t":12975,"N":-6,"E":9,"Z":6,"R":-9,"T":-4},
{"t":13000,"N":7,"E":11,"Z":-8,"R":31,"T":6},
{"t":13025,"N":-5,"E":-8,"Z":6,"R":-10,"T":-4},
{"t":13050,"N":-6,"E":10,"Z":-15,"R":12,"T":-5},
{"t":13075,"N":8,"E":-10,"Z":7,"R":-9,"T":3},
{"t":13100,"N":-9,"E":-12,"Z":9,"R":-11,"T":-4},
{"t":13125,"N":6,"E":9,"Z":-6,"R":8,"T":5},
{"t":13150,"N":-7,"E":-26,"Z":7,"R":34,"T":-6},
{"t":13175,"N":5,"E":10,"Z":-6,"R":-29,"T":4},
{"t":13200,"N":-14,"E":22,"Z":8,"R":12,"T":5},
{"t":13225,"N":6,"E":-8,"Z":-8,"R":-9,"T":-6},
{"t":13250,"N":-8,"E":9,"Z":-9,"R":11,"T":7},
{"t":13275,"N":5,"E":7,"Z":6,"R":-10,"T":-5},
{"t":13300,"N":-6,"E":-20,"Z":-7,"R":10,"T":6},
{"t":13325,"N":5,"E":9,"Z":7,"R":-8,"T":-4},
{"t":13350,"N":-7,"E":-10,"Z":-8,"R":-9,"T":5},
{"t":13375,"N":6,"E":9,"Z":8,"R":8,"T":-6},
{"t":13400,"N":-8,"E":-11,"Z":9,"R":-18,"T":-7},
{"t":13425,"N":5,"E":8,"Z":-5,"R":9,"T":5},
{"t":13450,"N":-6,"E":-9,"Z":6,"R":-11,"T":-6},
{"t":13475,"N":5,"E":8,"Z":-5,"R":8,"T":5},
{"t":13500,"N":7,"E":-10,"Z":7,"R":-10,"T":5},
{"t":13525,"N":-6,"E":8,"Z":-7,"R":8,"T":-5},
{"t":13550,"N":8,"E":-9,"Z":-8,"R":-11,"T":6},
{"t":13575,"N":-5,"E":7,"Z":7,"R":9,"T":-4},
{"t":13600,"N":16,"E":8,"Z":-9,"R":12,"T":-15},
{"t":13625,"N":-8,"E":-9,"Z":5,"R":-9,"T":5},
{"t":13650,"N":-9,"E":10,"Z":-6,"R":10,"T":-7},
{"t":13675,"N":6,"E":-8,"Z":6,"R":-8,"T":4},
{"t":13700,"N":7,"E":9,"Z":8,"R":11,"T":5},
{"t":13725,"N":-6,"E":-8,"Z":-6,"R":-10,"T":-5},
{"t":13750,"N":8,"E":-8,"Z":7,"R":-12,"T":6},
{"t":13775,"N":-5,"E":9,"Z":-5,"R":9,"T":-3},
{"t":13800,"N":6,"E":-10,"Z":6,"R":-17,"T":4},
{"t":13825,"N":-6,"E":7,"Z":-7,"R":8,"T":-4},
{"t":13850,"N":-7,"E":-9,"Z":8,"R":-11,"T":-5},
{"t":13875,"N":7,"E":8,"Z":-6,"R":8,"T":5},
{"t":13900,"N":-8,"E":8,"Z":-7,"R":10,"T":-6},
{"t":13925,"N":5,"E":-9,"Z":8,"R":-9,"T":6},
{"t":13950,"N":-6,"E":10,"Z":-9,"R":12,"T":-7},
{"t":13975,"N":6,"E":-9,"Z":6,"R":-9,"T":4},
{"t":14000,"N":-7,"E":-21,"Z":8,"R":11,"T":12},
{"t":14025,"N":6,"E":8,"Z":-6,"R":-9,"T":-5},
{"t":14050,"N":-8,"E":-9,"Z":7,"R":-12,"T":-6},
{"t":14075,"N":7,"E":9,"Z":-6,"R":8,"T":5},
{"t":14100,"N":9,"E":-10,"Z":18,"R":-10,"T":7},
{"t":14125,"N":-5,"E":7,"Z":-5,"R":9,"T":-4},
{"t":14150,"N":7,"E":-8,"Z":-12,"R":-11,"T":5},
{"t":14175,"N":-6,"E":8,"Z":6,"R":9,"T":-4},
{"t":14200,"N":6,"E":9,"Z":7,"R":12,"T":6},
{"t":14225,"N":-8,"E":-10,"Z":-7,"R":-8,"T":-6},
{"t":14250,"N":-9,"E":11,"Z":8,"R":10,"T":-7},
{"t":14275,"N":7,"E":-9,"Z":-5,"R":-9,"T":4},
{"t":14300,"N":-8,"E":10,"Z":6,"R":11,"T":-5},
{"t":14325,"N":5,"E":-8,"Z":-6,"R":-9,"T":5},
{"t":14350,"N":-6,"E":9,"Z":-7,"R":19,"T":-6},
{"t":14375,"N":6,"E":-10,"Z":7,"R":-10,"T":6},
{"t":14400,"N":7,"E":-11,"Z":-8,"R":-12,"T":8},
{"t":14425,"N":-7,"E":9,"Z":6,"R":9,"T":-6},
{"t":14450,"N":8,"E":-10,"Z":-6,"R":-11,"T":7},
{"t":14475,"N":-6,"E":9,"Z":5,"R":8,"T":-5},
{"t":14500,"N":9,"E":-20,"Z":7,"R":10,"T":7},
{"t":14525,"N":-7,"E":8,"Z":-5,"R":-8,"T":-5},
{"t":14550,"N":8,"E":22,"Z":6,"R":-18,"T":6},
{"t":14575,"N":-8,"E":-9,"Z":-7,"R":9,"T":-8},
{"t":14600,"N":-10,"E":10,"Z":8,"R":23,"T":6},
{"t":14625,"N":8,"E":-9,"Z":-4,"R":-9,"T":-7},
{"t":14650,"N":-9,"E":20,"Z":5,"R":11,"T":5},
{"t":14675,"N":7,"E":-8,"Z":-5,"R":-8,"T":-5},
{"t":14700,"N":8,"E":10,"Z":6,"R":12,"T":6},
{"t":14725,"N":-6,"E":-9,"Z":-6,"R":-10,"T":-5},
{"t":14750,"N":-9,"E":8,"Z":-7,"R":-25,"T":12},
{"t":14775,"N":6,"E":-20,"Z":4,"R":6,"T":-6},
{"t":14800,"N":-11,"E":-22,"Z":-12,"R":24,"T":-32},
{"t":14825,"N":4,"E":5,"Z":4,"R":5,"T":8},
{"t":14850,"N":23,"E":25,"Z":8,"R":-25,"T":-10},
{"t":14875,"N":-10,"E":47,"Z":3,"R":-15,"T":-35},
{"t":14900,"N":-51,"E":-5,"Z":-4,"R":-41,"T":57},
{"t":14925,"N":0,"E":-51,"Z":6,"R":50,"T":10},
{"t":14950,"N":47,"E":-15,"Z":15,"R":18,"T":-40},
{"t":14975,"N":15,"E":22,"Z":2,"R":-2,"T":-5},
{"t":15000,"N":-5,"E":8,"Z":-2,"R":-10,"T":12},
{"t":15025,"N":10,"E":-4,"Z":-10,"R":5,"T":4},
{"t":15050,"N":-8,"E":-10,"Z":-30,"R":14,"T":-7},
{"t":15075,"N":-12,"E":6,"Z":-52,"R":20,"T":5},
{"t":15100,"N":9,"E":12,"Z":46,"R":-18,"T":5},
{"t":15125,"N":12,"E":18,"Z":20,"R":-3,"T":-2},
{"t":15150,"N":-10,"E":-5,"Z":-2,"R":12,"T":-5},
{"t":15175,"N":-7,"E":-18,"Z":-5,"R":2,"T":0},
{"t":15200,"N":8,"E":2,"Z":3,"R":-12,"T":3},
{"t":15225,"N":11,"E":15,"Z":11,"R":-28,"T":-1},
{"t":15250,"N":-9,"E":21,"Z":8,"R":-8,"T":2},
{"t":15275,"N":-6,"E":-7,"Z":-3,"R":21,"T":-3},
{"t":15300,"N":-12,"E":16,"Z":-8,"R":10,"T":-2},
{"t":15325,"N":7,"E":-40,"Z":-12,"R":39,"T":4},
{"t":15350,"N":13,"E":-20,"Z":5,"R":5,"T":10},
{"t":15375,"N":-6,"E":41,"Z":-16,"R":-48,"T":-12},
{"t":15400,"N":-21,"E":20,"Z":18,"R":-20,"T":6},
{"t":15425,"N":-4,"E":-22,"Z":4,"R":15,"T":13},
{"t":15450,"N":12,"E":-12,"Z":-7,"R":23,"T":-10},
{"t":15475,"N":-8,"E":-3,"Z":2,"R":-10,"T":2},
{"t":15500,"N":10,"E":-28,"Z":6,"R":-10,"T":17},
{"t":15525,"N":-14,"E":-10,"Z":-3,"R":-15,"T":0},
{"t":15550,"N":-6,"E":21,"Z":17,"R":-23,"T":-13},
{"t":15575,"N":12,"E":0,"Z":4,"R":20,"T":5},
{"t":15600,"N":-10,"E":-34,"Z":-5,"R":39,"T":18},
{"t":15625,"N":6,"E":10,"Z":3,"R":-12,"T":-10},
{"t":15650,"N":28,"E":41,"Z":8,"R":-5,"T":-38},
{"t":15675,"N":8,"E":15,"Z":-4,"R":-17,"T":-20},
{"t":15700,"N":-2,"E":-10,"Z":2,"R":-10,"T":10},
{"t":15725,"N":-30,"E":-28,"Z":-6,"R":10,"T":32},
{"t":15750,"N":27,"E":10,"Z":-17,"R":24,"T":0},
{"t":15775,"N":18,"E":17,"Z":-4,"R":8,"T":-30},
{"t":15800,"N":5,"E":3,"Z":28,"R":2,"T":-5}
 ]
},
"vconcat": [
 {"width": 1199, "height": 117, "layer": [
  {"data": {"name": "w"}, "mark": {"type": "line", "color": "black", "strokeWidth": 2, "strokeJoin": "round"},
   "encoding": {
    "x": {"field": "t", "type": "quantitative", "scale": {"domain": [-790, 16590], "nice": false, "zero": false}, "axis": {"values": [0,2000,4000,6000,8000,10000,12000,14000,16000], "labels": false, "format": "d", "title": null}},
    "y": {"field": "N", "type": "quantitative", "scale": {"domain": [-61.5, 55.5], "nice": false, "zero": false}, "axis": null}}},
  {"data": {"name": "p"}, "mark": {"type": "rule", "color": "#00BFBF", "strokeWidth": 2.5, "strokeDash": [10, 4.4]},
   "encoding": {"x": {"field": "t", "type": "quantitative"}, "y": {"datum": 50.2, "type": "quantitative"}, "y2": {"datum": -56.2}}},
  {"data": {"values": [{"c": "N"}]}, "mark": {"type": "text", "align": "left", "baseline": "middle", "fontSize": 13.9, "font": "DejaVu Sans", "color": "black"},
   "encoding": {"x": {"datum": -620, "type": "quantitative"}, "y": {"datum": 44.5, "type": "quantitative"}, "text": {"field": "c"}}}
 ]},
 {"width": 1199, "height": 117, "layer": [
  {"data": {"name": "w"}, "mark": {"type": "line", "color": "black", "strokeWidth": 2, "strokeJoin": "round"},
   "encoding": {
    "x": {"field": "t", "type": "quantitative", "scale": {"domain": [-790, 16590], "nice": false, "zero": false}, "axis": {"values": [0,2000,4000,6000,8000,10000,12000,14000,16000], "labels": false, "format": "d", "title": null}},
    "y": {"field": "E", "type": "quantitative", "scale": {"domain": [-60.5, 56.5], "nice": false, "zero": false}, "axis": null}}},
  {"data": {"name": "p"}, "mark": {"type": "rule", "color": "#00BFBF", "strokeWidth": 2.5, "strokeDash": [10, 4.4]},
   "encoding": {"x": {"field": "t", "type": "quantitative"}, "y": {"datum": 51.2, "type": "quantitative"}, "y2": {"datum": -55.2}}},
  {"data": {"values": [{"c": "E"}]}, "mark": {"type": "text", "align": "left", "baseline": "middle", "fontSize": 13.9, "font": "DejaVu Sans", "color": "black"},
   "encoding": {"x": {"datum": -620, "type": "quantitative"}, "y": {"datum": 45.5, "type": "quantitative"}, "text": {"field": "c"}}}
 ]},
 {"width": 1199, "height": 117, "layer": [
  {"data": {"name": "w"}, "mark": {"type": "line", "color": "black", "strokeWidth": 2, "strokeJoin": "round"},
   "encoding": {
    "x": {"field": "t", "type": "quantitative", "scale": {"domain": [-790, 16590], "nice": false, "zero": false}, "axis": {"values": [0,2000,4000,6000,8000,10000,12000,14000,16000], "labels": false, "format": "d", "title": null}},
    "y": {"field": "Z", "type": "quantitative", "scale": {"domain": [-61.5, 55.5], "nice": false, "zero": false}, "axis": null}}},
  {"data": {"name": "p"}, "mark": {"type": "rule", "color": "#00BFBF", "strokeWidth": 2.5, "strokeDash": [10, 4.4]},
   "encoding": {"x": {"field": "t", "type": "quantitative"}, "y": {"datum": 50.2, "type": "quantitative"}, "y2": {"datum": -56.2}}},
  {"data": {"values": [{"c": "Z"}]}, "mark": {"type": "text", "align": "left", "baseline": "middle", "fontSize": 13.9, "font": "DejaVu Sans", "color": "black"},
   "encoding": {"x": {"datum": -620, "type": "quantitative"}, "y": {"datum": 44.5, "type": "quantitative"}, "text": {"field": "c"}}}
 ]},
 {"width": 1199, "height": 117, "layer": [
  {"data": {"name": "w"}, "mark": {"type": "line", "color": "black", "strokeWidth": 2, "strokeJoin": "round"},
   "encoding": {
    "x": {"field": "t", "type": "quantitative", "scale": {"domain": [-790, 16590], "nice": false, "zero": false}, "axis": {"values": [0,2000,4000,6000,8000,10000,12000,14000,16000], "labels": false, "format": "d", "title": null}},
    "y": {"field": "R", "type": "quantitative", "scale": {"domain": [-58.5, 58.5], "nice": false, "zero": false}, "axis": null}}},
  {"data": {"name": "p"}, "mark": {"type": "rule", "color": "#00BFBF", "strokeWidth": 2.5, "strokeDash": [10, 4.4]},
   "encoding": {"x": {"field": "t", "type": "quantitative"}, "y": {"datum": 53.2, "type": "quantitative"}, "y2": {"datum": -53.2}}},
  {"data": {"values": [{"c": "R"}]}, "mark": {"type": "text", "align": "left", "baseline": "middle", "fontSize": 13.9, "font": "DejaVu Sans", "color": "black"},
   "encoding": {"x": {"datum": -620, "type": "quantitative"}, "y": {"datum": 47.5, "type": "quantitative"}, "text": {"field": "c"}}}
 ]},
 {"width": 1199, "height": 117, "layer": [
  {"data": {"name": "w"}, "mark": {"type": "line", "color": "black", "strokeWidth": 2, "strokeJoin": "round"},
   "encoding": {
    "x": {"field": "t", "type": "quantitative", "scale": {"domain": [-790, 16590], "nice": false, "zero": false}, "axis": {"values": [0,2000,4000,6000,8000,10000,12000,14000,16000], "labels": true, "format": "d", "title": null}},
    "y": {"field": "T", "type": "quantitative", "scale": {"domain": [-50.5, 66.5], "nice": false, "zero": false}, "axis": null}}},
  {"data": {"name": "p"}, "mark": {"type": "rule", "color": "#00BFBF", "strokeWidth": 2.5, "strokeDash": [10, 4.4]},
   "encoding": {"x": {"field": "t", "type": "quantitative"}, "y": {"datum": 61.2, "type": "quantitative"}, "y2": {"datum": -45.2}}},
  {"data": {"values": [{"c": "T"}]}, "mark": {"type": "text", "align": "left", "baseline": "middle", "fontSize": 13.9, "font": "DejaVu Sans", "color": "black"},
   "encoding": {"x": {"datum": -620, "type": "quantitative"}, "y": {"datum": 55.5, "type": "quantitative"}, "text": {"field": "c"}}}
 ]}
]
}
